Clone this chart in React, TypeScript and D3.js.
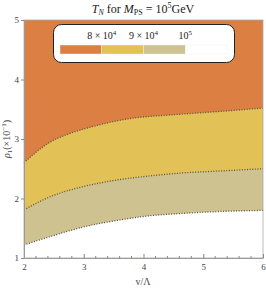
import { useEffect, useRef } from 'react'
import * as d3 from 'd3'

// boundary curves: [v/Λ, ρ1 (×10^-1)]
const upperEdge: [number, number][] = [
  [2, 2.6], [2.44, 2.95], [2.71, 3.07], [3.27, 3.24], [3.82, 3.35],
  [4.39, 3.4], [4.95, 3.44], [5.5, 3.48], [6, 3.52],
]
const middleEdge: [number, number][] = [
  [2, 1.81], [2.44, 2.03], [2.99, 2.2], [3.55, 2.31], [4.11, 2.38],
  [4.66, 2.43], [5.23, 2.46], [6, 2.5],
]
const lowerEdge: [number, number][] = [
  [2, 1.22], [2.44, 1.36], [2.99, 1.52], [3.55, 1.63], [4.11, 1.71],
  [4.66, 1.75], [5.23, 1.78], [6, 1.8],
]
const legendColors = ['#db7f43', '#e2c156', '#cdc290', '#ffffff']
const legendLabels = ['8 × 10', '9 × 10', '10']
const legendPowers = ['4', '4', '5']
const xTicks = [2, 3, 4, 5, 6]
const yTicks = [1, 2, 3, 4, 5]

function App() {
  const g_ref = useRef<SVGGElement>(null)
  const width = 266,
        height = 291
  const plot = { left: 24, top: 20, right: 263, bottom: 258 }

  useEffect(() => {
    const svg = d3.select(g_ref.current)
    svg.selectAll('*').remove()

    const x = d3.scaleLinear([2, 6], [plot.left, plot.right])
    const y = d3.scaleLinear([1, 5], [plot.bottom, plot.top])

    svg.append('rect')
      .attr('x', plot.left).attr('y', plot.top)
      .attr('width', plot.right - plot.left).attr('height', plot.bottom - plot.top)
      .attr('fill', legendColors[3])

    const band = (edge: [number, number][], color: string) => {
      svg.append('path')
        .datum(edge)
        .attr('fill', color)
        .attr('d', d3.area<[number, number]>()
          .x(d => x(d[0]))
          .y0(y(5))
          .y1(d => y(d[1]))
          .curve(d3.curveMonotoneX))
    }
    band(lowerEdge, legendColors[2])
    band(middleEdge, legendColors[1])
    band(upperEdge, legendColors[0])

    for (const edge of [upperEdge, middleEdge, lowerEdge]) {
      svg.append('path')
        .datum(edge)
        .attr('fill', 'none')
        .attr('stroke', '#5a5248')
        .attr('stroke-width', 1.3)
        .attr('stroke-dasharray', '1,1.6')
        .attr('d', d3.line<[number, number]>()
          .x(d => x(d[0]))
          .y(d => y(d[1]))
          .curve(d3.curveMonotoneX))
    }

    // frame
    svg.append('rect')
      .attr('x', plot.left).attr('y', plot.top)
      .attr('width', plot.right - plot.left).attr('height', plot.bottom - plot.top)
      .attr('fill', 'none').attr('stroke', '#aaa').attr('stroke-width', 0.8)

    const xAxis = svg.append('g')
      .attr('transform', `translate(0, ${plot.bottom})`)
      .call(d3.axisBottom(x).tickValues(xTicks).tickFormat(d3.format('d'))
        .tickSizeInner(-4).tickSizeOuter(0).tickPadding(6))
    xAxis.selectAll('line').attr('stroke', '#888')
    xAxis.select('.domain').attr('stroke', '#999')
    const minorX = d3.range(2, 6.01, 0.2).filter(v => Math.abs(v - Math.round(v)) > 0.01)
    svg.append('g').selectAll('line').data(minorX).join('line')
      .attr('x1', d => x(d)).attr('x2', d => x(d))
      .attr('y1', plot.bottom).attr('y2', plot.bottom - 2)
      .attr('stroke', '#888')

    const yAxis = svg.append('g')
      .attr('transform', `translate(${plot.left}, 0)`)
      .call(d3.axisLeft(y).tickValues(yTicks).tickFormat(d3.format('d'))
        .tickSizeInner(3).tickSizeOuter(0).tickPadding(2))
    yAxis.selectAll('line').attr('stroke', '#888')
    yAxis.select('.domain').attr('stroke', '#999')

    svg.selectAll('.tick text')
      .attr('font-family', '"Liberation Serif", serif')
      .attr('font-size', 9)
      .attr('fill', '#444')

    // legend
    const lg = svg.append('g')
    lg.append('rect')
      .attr('x', 53.5).attr('y', 24.5).attr('width', 181).attr('height', 38)
      .attr('rx', 8).attr('fill', '#fff').attr('stroke', '#222').attr('stroke-width', 1)
    const lx = d3.scaleLinear([0, 4], [60, 227])
    lg.selectAll('rect.sw').data(legendColors).join('rect')
      .attr('class', 'sw')
      .attr('x', (_, i) => lx(i)).attr('y', 45)
      .attr('width', lx(1) - lx(0)).attr('height', 9)
      .attr('fill', d => d)
      .attr('stroke', '#eee').attr('stroke-width', 0.5)
    lg.selectAll('text').data(legendLabels).join('text')
      .attr('x', (_, i) => lx(i + 1))
      .attr('y', 39)
      .attr('text-anchor', 'middle')
      .attr('font-family', '"Liberation Serif", serif')
      .attr('font-size', 10)
      .attr('fill', '#222')
      .each(function (d, i) {
        const t = d3.select(this)
        t.append('tspan').text(d)
        t.append('tspan').attr('dy', -4).attr('font-size', 7).text(legendPowers[i])
      })
  }, [])

  return (
    <svg width={width} height={height}
      style={{ position: 'absolute', left: 0, top: 0, background: '#fff' }}>
      <g ref={g_ref}></g>
      <text x={143} y={13} textAnchor='middle' fontFamily='"Liberation Serif", serif' fontSize={12} fill='#222'>
        <tspan fontStyle='italic'>T</tspan>
        <tspan fontStyle='italic' fontSize={8} dy={2}>N</tspan>
        <tspan dy={-2}> for </tspan>
        <tspan fontStyle='italic'>M</tspan>
        <tspan fontSize={8} dy={2}>PS</tspan>
        <tspan dy={-2}> = 10</tspan>
        <tspan fontSize={8} dy={-5}>5</tspan>
        <tspan dy={5}>GeV</tspan>
      </text>
      <text x={143} y={285} textAnchor='middle' fontFamily='"Liberation Serif", serif' fontSize={10} fill='#444'>v/Λ</text>
      <text transform='translate(10, 139) rotate(-90)' textAnchor='middle'
        fontFamily='"Liberation Serif", serif' fontSize={10} fill='#444'>
        <tspan fontStyle='italic'>ρ</tspan>
        <tspan fontSize={7} dy={2}>1</tspan>
        <tspan dy={-2}>(×10</tspan>
        <tspan fontSize={7} dy={-4}>−1</tspan>
        <tspan dy={4}>)</tspan>
      </text>
    </svg>
  )
}

export default App
